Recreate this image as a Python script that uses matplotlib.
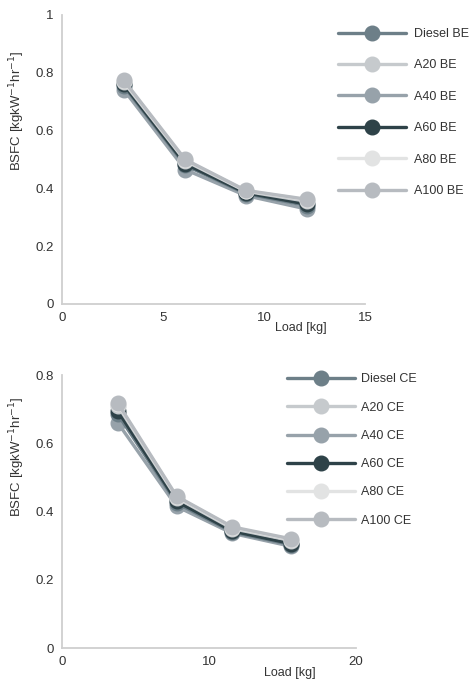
import matplotlib
matplotlib.use("Agg")
import matplotlib.pyplot as plt

plt.rcParams['font.family'] = ['Liberation Sans', 'DejaVu Sans']

# Datos
carga_be = [3.05, 6.1, 9.1, 12.15]
carga_ce = [3.8, 7.8, 11.6, 15.6]

series = ['Diesel', 'A20', 'A40', 'A60', 'A80', 'A100']
colores = ['#6d7f88', '#c6cacd', '#97a2aa', '#2e4248', '#e2e3e3', '#b7bbc0']

bsfc_be = {
    'Diesel': [0.755, 0.48, 0.382, 0.34],
    'A20': [0.768, 0.495, 0.39, 0.355],
    'A40': [0.742, 0.465, 0.375, 0.328],
    'A60': [0.76, 0.485, 0.385, 0.345],
    'A80': [0.772, 0.498, 0.392, 0.36],
    'A100': [0.775, 0.50, 0.393, 0.362],
}
bsfc_ce = {
    'Diesel': [0.685, 0.425, 0.34, 0.303],
    'A20': [0.71, 0.44, 0.35, 0.315],
    'A40': [0.66, 0.415, 0.336, 0.298],
    'A60': [0.695, 0.43, 0.343, 0.306],
    'A80': [0.715, 0.443, 0.353, 0.318],
    'A100': [0.718, 0.445, 0.355, 0.32],
}

xticks_be = [0, 5, 10, 15]
yticks_be = [0, 0.2, 0.4, 0.6, 0.8, 1]
yticklabels_be = ['0', '0.2', '0.4', '0.6', '0.8', '1']
xticks_ce = [0, 10, 20]
yticks_ce = [0, 0.2, 0.4, 0.6, 0.8]
yticklabels_ce = ['0', '0.2', '0.4', '0.6', '0.8']

# orden de dibujo: las series claras quedan arriba
orden = ['A40', 'Diesel', 'A60', 'A20', 'A80', 'A100']


def estilo_ejes(ax, xticks, yticks, yticklabels, xlim, ylim):
    for s in ['top', 'right']:
        ax.spines[s].set_visible(False)
    for s in ['left', 'bottom']:
        ax.spines[s].set_color('#cfcfcf')
        ax.spines[s].set_linewidth(1.3)
    ax.set_xlim(*xlim)
    ax.set_ylim(*ylim)
    ax.set_xticks(xticks)
    ax.set_xticklabels([str(t) for t in xticks])
    ax.set_yticks(yticks)
    ax.set_yticklabels(yticklabels)
    ax.tick_params(length=0, pad=6, labelsize=9.5, labelcolor='#333333')


def graficar(ax, carga, datos, sufijo):
    lineas = {}
    for nombre in orden:
        color = colores[series.index(nombre)]
        lineas[nombre], = ax.plot(carga, datos[nombre], color=color, lw=2.4, marker='o', ms=10.5,
                                  label=f'{nombre} {sufijo}', solid_capstyle='round')
    return [lineas[n] for n in series]


fig = plt.figure(figsize=(4.77, 6.84), dpi=100)

ax1 = fig.add_axes([0.130, 0.5556, 0.635, 0.4225])
h1 = graficar(ax1, carga_be, bsfc_be, 'BE')
estilo_ejes(ax1, xticks_be, yticks_be, yticklabels_be, (0, 15), (0, 1))
ax1.set_ylabel('BSFC [kgkW$^{-1}$hr$^{-1}$]', fontsize=9.5, color='#333333')
ax1.yaxis.set_label_coords(-0.115, 0.668)
ax1.set_xlabel('Load [kg]', fontsize=9, color='#333333')
ax1.xaxis.set_label_coords(0.79, -0.062)
ax1.legend(handles=h1, loc='upper left', bbox_to_anchor=(0.709, 0.959), bbox_transform=fig.transFigure,
           frameon=False, fontsize=9, handlelength=5.4, handletextpad=0.7,
           labelspacing=1.55, borderpad=0, borderaxespad=0, labelcolor='#333333')

ax2 = fig.add_axes([0.130, 0.0526, 0.616, 0.399])
h2 = graficar(ax2, carga_ce, bsfc_ce, 'CE')
estilo_ejes(ax2, xticks_ce, yticks_ce, yticklabels_ce, (0, 20), (0, 0.8))
ax2.set_ylabel('BSFC [kgkW$^{-1}$hr$^{-1}$]', fontsize=9.5, color='#333333')
ax2.yaxis.set_label_coords(-0.119, 0.70)
ax2.set_xlabel('Load [kg]', fontsize=9, color='#333333')
ax2.xaxis.set_label_coords(0.776, -0.07)
ax2.legend(handles=h2, loc='upper left', bbox_to_anchor=(0.602, 0.454), bbox_transform=fig.transFigure,
           frameon=False, fontsize=9, handlelength=5.4, handletextpad=0.5,
           labelspacing=1.3, borderpad=0, borderaxespad=0, labelcolor='#333333')

fig.savefig('out.png', dpi=100)
